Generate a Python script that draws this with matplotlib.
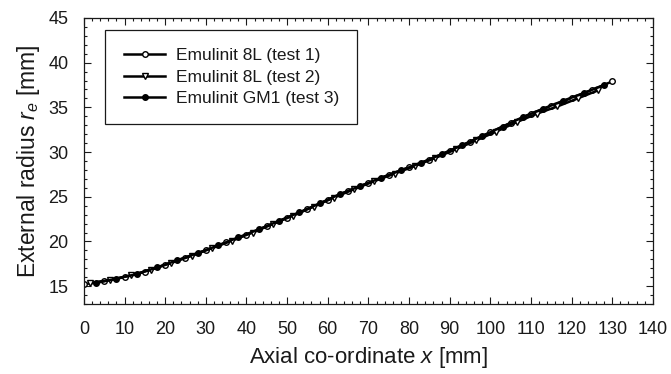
import matplotlib
matplotlib.use("Agg")
import matplotlib.pyplot as plt
from matplotlib.ticker import MultipleLocator

plt.rcParams['font.family'] = ['Liberation Sans', 'DejaVu Sans']
plt.rcParams['mathtext.fontset'] = 'custom'
plt.rcParams['mathtext.it'] = 'Liberation Sans:italic'
plt.rcParams['mathtext.rm'] = 'Liberation Sans'

# Test 1: Emulinit 8L
x1 = [0, 5, 10, 15, 20, 25, 30, 35, 40, 45, 50, 55, 60, 65, 70, 75, 80, 85, 90,
      95, 100, 105, 110, 115, 120, 125, 130]
y1 = [15.2, 15.6, 16.0, 16.6, 17.4, 18.2, 19.0, 19.9, 20.75, 21.7, 22.65, 23.6,
      24.65, 25.65, 26.55, 27.45, 28.3, 29.15, 30.15, 31.15, 32.2, 33.25, 34.3,
      35.15, 36.05, 36.95, 37.9]

# Test 2: Emulinit 8L
x2 = [1.5, 6.5, 11.5, 16.5, 21.5, 26.5, 31.5, 36.5, 41.5, 46.5, 51.5, 56.5, 61.5,
      66.5, 71.5, 76.5, 81.5, 86.5, 91.5, 96.5, 101.5, 106.5, 111.5, 116.5, 121.5,
      126.5]
y2 = [15.3, 15.7, 16.2, 16.85, 17.6, 18.4, 19.25, 20.1, 21.0, 21.95, 22.9, 23.9,
      24.9, 25.85, 26.75, 27.6, 28.45, 29.35, 30.3, 31.3, 32.3, 33.35, 34.3, 35.1,
      36.0, 36.9]

# Test 3: Emulinit GM1
x3 = [3, 8, 13, 18, 23, 28, 33, 38, 43, 48, 53, 58, 63, 68, 73, 78, 83, 88, 93,
      98, 103, 108, 113, 118, 123, 128]
y3 = [15.35, 15.85, 16.35, 17.1, 17.9, 18.7, 19.55, 20.45, 21.35, 22.3, 23.25,
      24.25, 25.3, 26.2, 27.1, 27.95, 28.8, 29.75, 30.75, 31.8, 32.85, 33.9, 34.85,
      35.75, 36.6, 37.5]

labels = ["Emulinit 8L (test 1)", "Emulinit 8L (test 2)", "Emulinit GM1 (test 3)"]
xticks = list(range(0, 141, 10))
yticks = list(range(15, 46, 5))

fig = plt.figure(figsize=(6.71, 3.74), dpi=100)
ax = fig.add_axes([0.125, 0.187, 0.848, 0.765])

ax.plot(x1, y1, color='black', lw=1.8, marker='o', ms=4, mfc='white', mec='black', mew=1.0, label=labels[0])
ax.plot(x2, y2, color='black', lw=1.8, marker='v', ms=4, mfc='white', mec='black', mew=1.0, label=labels[1])
ax.plot(x3, y3, color='black', lw=1.8, marker='o', ms=4, mfc='black', mec='black', mew=1.0, label=labels[2])

ax.set_xlim(0, 140)
ax.set_ylim(13, 45)
ax.set_xticks(xticks)
ax.set_yticks(yticks)
ax.xaxis.set_minor_locator(MultipleLocator(2))
ax.yaxis.set_minor_locator(MultipleLocator(1))
ax.tick_params(which='both', direction='in', top=True, right=True, colors='#1a1a1a', width=0.8)
ax.tick_params(which='major', length=5, labelsize=13)
ax.tick_params(axis='x', which='major', pad=12)
ax.tick_params(axis='y', which='major', pad=11)
ax.tick_params(which='minor', length=2.5)
for s in ax.spines.values():
    s.set_linewidth(0.9)
    s.set_color('#1a1a1a')

ax.set_xlabel(r'Axial co-ordinate $x$ [mm]', fontsize=16, color='#1a1a1a', labelpad=5)
ax.set_ylabel(r'External radius $r_e$ [mm]', fontsize=16.5, color='#1a1a1a', labelpad=5)

leg = ax.legend(loc='upper left', bbox_to_anchor=(0.038, 0.958), fontsize=12.5,
                fancybox=False, framealpha=1, edgecolor='#1a1a1a', handlelength=2.4,
                borderpad=1.05, labelspacing=0.36, handletextpad=0.6, borderaxespad=0)
leg.get_frame().set_linewidth(0.9)
for t in leg.get_texts():
    t.set_color('#1a1a1a')

fig.savefig('out.png', dpi=100)
